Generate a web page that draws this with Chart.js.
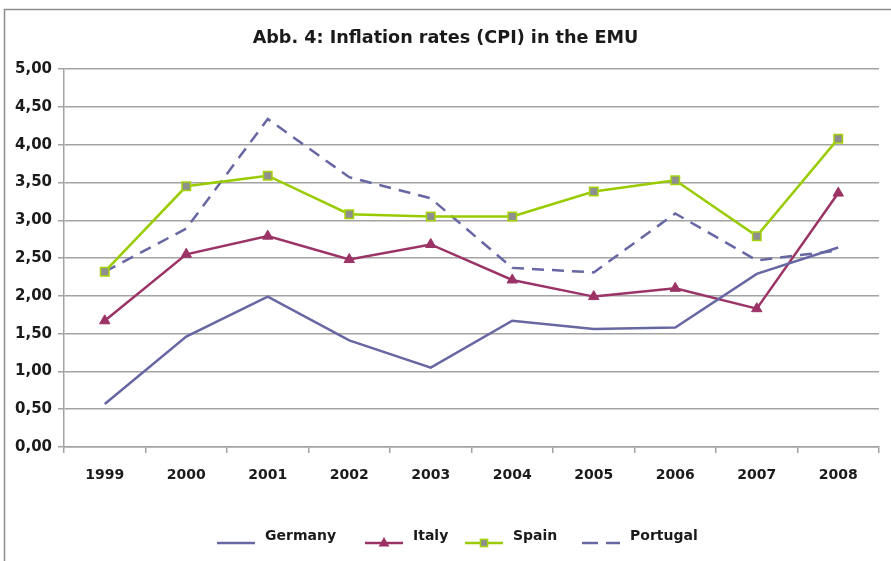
<!DOCTYPE html>
<html>
<head>
<meta charset="utf-8">
<script src="https://cdn.jsdelivr.net/npm/chart.js@4/dist/chart.umd.min.js"></script>
<style>
html,body{margin:0;padding:0;background:#fff;overflow:hidden;}
#wrap{position:absolute;left:0;top:0;width:891px;height:561px;}
</style>
</head>
<body>
<div id="wrap"><canvas id="c" width="891" height="561"></canvas></div>
<script>
const years = ['1999','2000','2001','2002','2003','2004','2005','2006','2007','2008'];
const germany  = [0.57, 1.46, 1.99, 1.41, 1.05, 1.67, 1.56, 1.58, 2.29, 2.64];
const italy    = [1.67, 2.55, 2.79, 2.48, 2.68, 2.21, 1.99, 2.10, 1.83, 3.36];
const spain    = [2.32, 3.45, 3.59, 3.08, 3.05, 3.05, 3.38, 3.53, 2.79, 4.08];
const portugal = [2.32, 2.89, 4.34, 3.57, 3.29, 2.37, 2.31, 3.09, 2.47, 2.60];
const titleText = 'Abb. 4: Inflation rates (CPI) in the EMU';

const FONT = 'DejaVu Sans';
const GRID = '#a3a3a3';

const frame = {
  id: 'frame',
  beforeDraw(chart) {
    const ctx = chart.ctx;
    ctx.save();
    ctx.strokeStyle = '#8c8c8c';
    ctx.lineWidth = 1.5;
    ctx.beginPath();
    ctx.moveTo(4.5, 561);
    ctx.lineTo(4.5, 9.5);
    ctx.lineTo(891, 9.5);
    ctx.stroke();
    ctx.restore();
  }
};

const customLegend = {
  id: 'customLegend',
  afterDraw(chart, args, opts) {
    const ctx = chart.ctx;
    const xs = opts.xs;
    const yLine = opts.y;
    ctx.save();
    chart.data.datasets.forEach((ds, i) => {
      const x0 = xs[i];
      const len = 38;
      ctx.strokeStyle = ds.borderColor;
      ctx.lineWidth = ds.borderWidth;
      ctx.beginPath();
      if (ds.borderDash && ds.borderDash.length) {
        ctx.moveTo(x0, yLine); ctx.lineTo(x0 + 16, yLine);
        ctx.moveTo(x0 + 24, yLine); ctx.lineTo(x0 + len, yLine);
      } else {
        ctx.moveTo(x0, yLine); ctx.lineTo(x0 + len, yLine);
      }
      ctx.stroke();
      const cx = x0 + len / 2;
      if (ds.pointStyle === 'triangle' && ds.pointRadius > 0) {
        const r = ds.pointRadius;
        ctx.fillStyle = ds.pointBackgroundColor;
        ctx.beginPath();
        ctx.moveTo(cx, yLine - r);
        ctx.lineTo(cx + r * 0.9, yLine + r * 0.6);
        ctx.lineTo(cx - r * 0.9, yLine + r * 0.6);
        ctx.closePath();
        ctx.fill();
      } else if (ds.pointStyle === 'rect' && ds.pointRadius > 0) {
        const s = ds.pointRadius * 1.2;
        ctx.fillStyle = ds.pointBackgroundColor;
        ctx.strokeStyle = ds.pointBorderColor;
        ctx.lineWidth = ds.pointBorderWidth;
        ctx.fillRect(cx - s / 2, yLine - s / 2, s, s);
        ctx.strokeRect(cx - s / 2, yLine - s / 2, s, s);
      }
      ctx.fillStyle = '#1a1a1a';
      ctx.font = 'bold 14px "' + FONT + '"';
      ctx.textBaseline = 'middle';
      ctx.textAlign = 'left';
      ctx.fillText(ds.label, x0 + len + 10, yLine - 7);
    });
    ctx.restore();
  }
};

new Chart(document.getElementById('c'), {
  type: 'line',
  data: {
    labels: years,
    datasets: [
      { label: 'Germany', data: germany, borderColor: '#6767a3', borderWidth: 2.5,
        pointRadius: 0, pointHoverRadius: 0, tension: 0, fill: false },
      { label: 'Italy', data: italy, borderColor: '#9b3366', borderWidth: 2.5,
        pointStyle: 'triangle', pointRadius: 6, pointBackgroundColor: '#9b3366',
        pointBorderColor: '#9b3366', pointBorderWidth: 1, tension: 0, fill: false },
      { label: 'Spain', data: spain, borderColor: '#99cc00', borderWidth: 2.5,
        pointStyle: 'rect', pointRadius: 6, pointBackgroundColor: '#8f8f8f',
        pointBorderColor: '#a6d40a', pointBorderWidth: 1.5, tension: 0, fill: false },
      { label: 'Portugal', data: portugal, borderColor: '#6767a3', borderWidth: 2.5,
        borderDash: [12, 8], pointRadius: 0, pointHoverRadius: 0, tension: 0, fill: false }
    ]
  },
  options: {
    responsive: false,
    animation: false,
    layout: { padding: { left: 12, right: 12, top: 0, bottom: 74 } },
    plugins: {
      legend: { display: false },
      tooltip: { enabled: false },
      title: {
        display: true, text: titleText, color: '#1a1a1a',
        font: { family: FONT, size: 17.6, weight: 'bold' },
        padding: { top: 28, bottom: 20 }
      },
      customLegend: { xs: [217, 365, 465, 582], y: 543 }
    },
    scales: {
      x: {
        offset: true,
        grid: { display: true, offset: true, drawOnChartArea: false, color: GRID, tickLength: 6, lineWidth: 1.5 },
        border: { display: true, color: GRID, width: 1.5 },
        ticks: { color: '#1a1a1a', font: { family: FONT, size: 14, weight: 'bold' }, padding: 14, maxRotation: 0 },
        afterFit: s => { s.height = 40; }
      },
      y: {
        min: 0, max: 5,
        grid: { color: GRID, lineWidth: 1.5, tickLength: 6 },
        border: { display: true, color: GRID, width: 1.5 },
        ticks: { stepSize: 0.5, color: '#1a1a1a', padding: 6,
          font: { family: FONT, size: 15, weight: 'bold' },
          callback: v => v.toFixed(2).replace('.', ',') },
        afterFit: s => { s.width = 52; }
      }
    }
  },
  plugins: [frame, customLegend]
});
</script>
</body>
</html>
